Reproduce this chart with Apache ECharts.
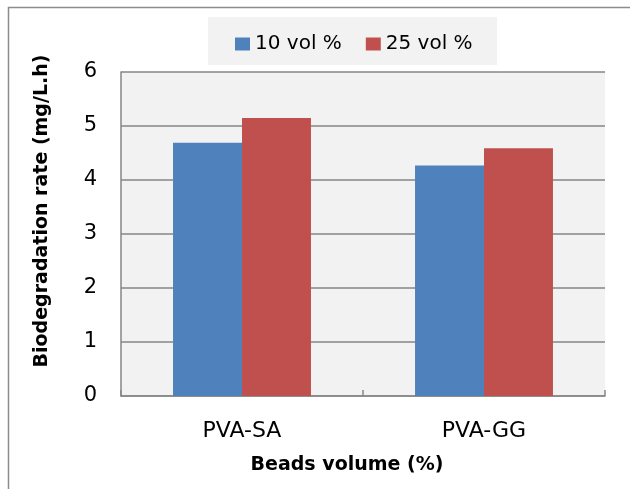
<!DOCTYPE html>
<html>
<head>
<meta charset="utf-8">
<script src="https://cdn.jsdelivr.net/npm/echarts@6/dist/echarts.min.js"></script>
<style>
html,body{margin:0;padding:0;background:#fff;}
#chart{width:630px;height:489px;}
</style>
</head>
<body>
<div id="chart"></div>
<script>
const categories = ['PVA-SA', 'PVA-GG'];
const seriesNames = ['10 vol %', '25 vol %'];
const vol10 = [4.69, 4.27];
const vol25 = [5.15, 4.59];
const yTicks = [0, 1, 2, 3, 4, 5, 6];
const xTitle = 'Beads volume (%)';
const yTitle = 'Biodegradation rate (mg/L.h)';

const FONT = 'DejaVu Sans';
const chart = echarts.init(document.getElementById('chart'), null, {renderer: 'canvas'});
chart.setOption({
  animation: false,
  backgroundColor: '#ffffff',
  grid: {left: 121, right: 25, top: 72, bottom: 93, show: true, backgroundColor: '#f2f2f2', borderWidth: 0},
  legend: {
    data: seriesNames,
    left: 230, top: 29,
    icon: 'rect', itemWidth: 15, itemHeight: 13, itemGap: 24,
    textStyle: {fontFamily: FONT, fontSize: 20, color: '#000'}
  },
  graphic: [
    {type: 'rect', z: -10, shape: {x: 8.5, y: 7.5, width: 700, height: 600},
     style: {fill: '#ffffff', stroke: '#8c8c8c', lineWidth: 1.5}},
    {type: 'rect', z: -5, shape: {x: 208, y: 17, width: 289, height: 48},
     style: {fill: '#f2f2f2'}},
    {type: 'text', x: 347, y: 465, style: {text: xTitle, fontFamily: FONT, fontSize: 19, fontWeight: 'bold', fill: '#000', textAlign: 'center', textVerticalAlign: 'middle'}},
    {type: 'text', x: 42, y: 211, rotation: Math.PI / 2, style: {text: yTitle, fontFamily: FONT, fontSize: 19, fontWeight: 'bold', fill: '#000', textAlign: 'center', textVerticalAlign: 'middle'}}
  ],
  xAxis: {
    type: 'category', data: categories,
    axisLine: {lineStyle: {color: '#868686', width: 1.5}},
    axisTick: {show: true, inside: true, length: 6, lineStyle: {color: '#868686', width: 1.5}},
    axisLabel: {fontFamily: FONT, fontSize: 22, color: '#000', margin: 24},
    splitLine: {show: false}
  },
  yAxis: {
    type: 'value', min: yTicks[0], max: yTicks[yTicks.length - 1], interval: 1,
    axisLine: {show: true, lineStyle: {color: '#868686', width: 1.5}},
    axisTick: {show: false},
    axisLabel: {fontFamily: FONT, fontSize: 21, color: '#000', margin: 24},
    splitLine: {show: true, lineStyle: {color: '#868686', width: 1.5}}
  },
  series: [
    {name: seriesNames[0], type: 'bar', data: vol10, barWidth: '28.5%', barGap: '0%', itemStyle: {color: '#4f81bd'}},
    {name: seriesNames[1], type: 'bar', data: vol25, barWidth: '28.5%', barGap: '0%', itemStyle: {color: '#c0504d'}}
  ]
});
</script>
</body>
</html>
